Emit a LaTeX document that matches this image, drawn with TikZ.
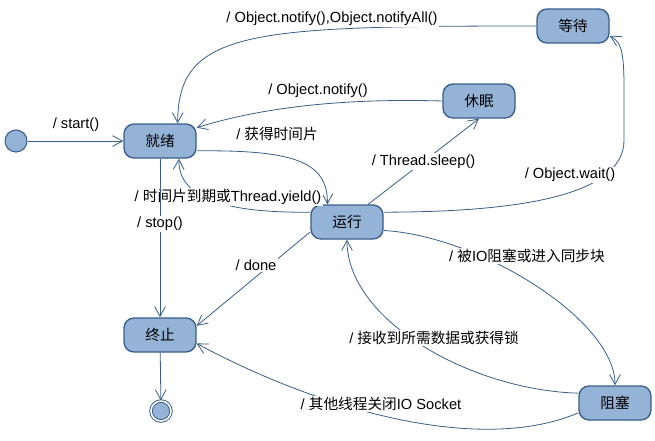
\documentclass[tikz,border=0pt]{standalone}
\usepackage{fontspec}
\setmainfont{Liberation Sans}
\newfontfamily\cjk{Noto Sans CJK SC}
\newcommand{\zh}[1]{{\cjk #1}}
\usetikzlibrary{arrows.meta}
\definecolor{statefill}{HTML}{95B3D7}
\definecolor{stateline}{HTML}{385D8A}
\tikzset{
  every node/.style={text=black, font=\fontsize{11}{13}\selectfont},
  state/.style={draw=stateline, fill=statefill, line width=1pt, rounded corners=7.5pt,
    minimum width=54pt, minimum height=25.5pt, font=\cjk\fontsize{11}{13}\selectfont},
  pseudo/.style={circle, draw=stateline, fill=statefill, line width=0.8pt, minimum size=16.5pt, inner sep=0pt},
  final/.style={circle, draw=stateline, fill=statefill, line width=0.7pt, double=white,
    double distance=1.2pt, minimum size=15pt, inner sep=0pt},
  trans/.style={->, draw=stateline, line width=0.6pt},
  lbl/.style={fill=white, inner sep=1pt}
}

\begin{document}
\begin{tikzpicture}[x=0.75pt, y=-0.75pt, >={Straight Barb[length=7.5pt,width=8pt]}]
  \useasboundingbox (0,0) rectangle (655,440);
  % Nodes
  \node (start) [pseudo] at (16,141) {};
  \node (ready) [state] at (160,141) {就绪};
  \node (waiting) [state] at (573,26) {等待};
  \node (sleeping) [state] at (479,101) {休眠};
  \node (running) [state] at (347,222) {运行};
  \node (blocked) [state] at (615,403) {阻塞};
  \node (dead) [state] at (160,335) {终止};
  \node (finish) [final] at (161,411) {};

  % Transitions
  \draw[trans] (start) -- (ready) node[lbl] at (76,125) {/ start()};
  \draw[trans] (waiting.west) .. controls (250,26) and (178,30) .. (ready.45)
    node[lbl] at (332,19) {/ Object.notify(),Object.notifyAll()};
  \draw[trans] (sleeping.west) .. controls (340,98) and (260,108) .. (ready.20)
    node[lbl] at (318,91) {/ Object.notify()};
  \draw[trans] (ready.-15) .. controls (290,150) and (328,160) .. (running.138)
    node[lbl] at (277,134) {/ \zh{获得时间片}};
  \draw[trans] (running.165) .. controls (230,213) and (178,200) .. (ready.-43)
    node[lbl] at (228,197) {/ \zh{时间片到期或}Thread.yield()};
  \draw[trans] (ready.south) -- node[lbl, pos=0.41] {/ stop()} (dead.north);
  \draw[trans] (running.40) -- node[lbl] {/ Thread.sleep()} (sleeping.south);
  \draw[trans] (running.15) .. controls (540,212) and (624,190) .. (624,140)
    .. controls (624,60) and (626,45) .. (waiting.-15)
    node[lbl] at (570,175) {/ Object.wait()};
  \draw[trans] (running.-13) .. controls (480,236) and (615,320) .. (blocked.north)
    node[lbl] at (527,256) {/ \zh{被}IO\zh{阻塞或进入同步块}};
  \draw[trans] (blocked.165) .. controls (470,390) and (347,320) .. (running.south)
    node[lbl] at (434,338) {/ \zh{接收到所需数据或获得锁}};
  \draw[trans] (blocked.195) .. controls (480,455) and (320,410) .. (dead.-13)
    node[lbl] at (381,404) {/ \zh{其他线程关闭}IO Socket};
  \draw[trans] (running.195) -- (dead.14) node[lbl] at (256,265) {/ done};
  \draw[trans] (dead) -- (finish);
\end{tikzpicture}
\end{document}
